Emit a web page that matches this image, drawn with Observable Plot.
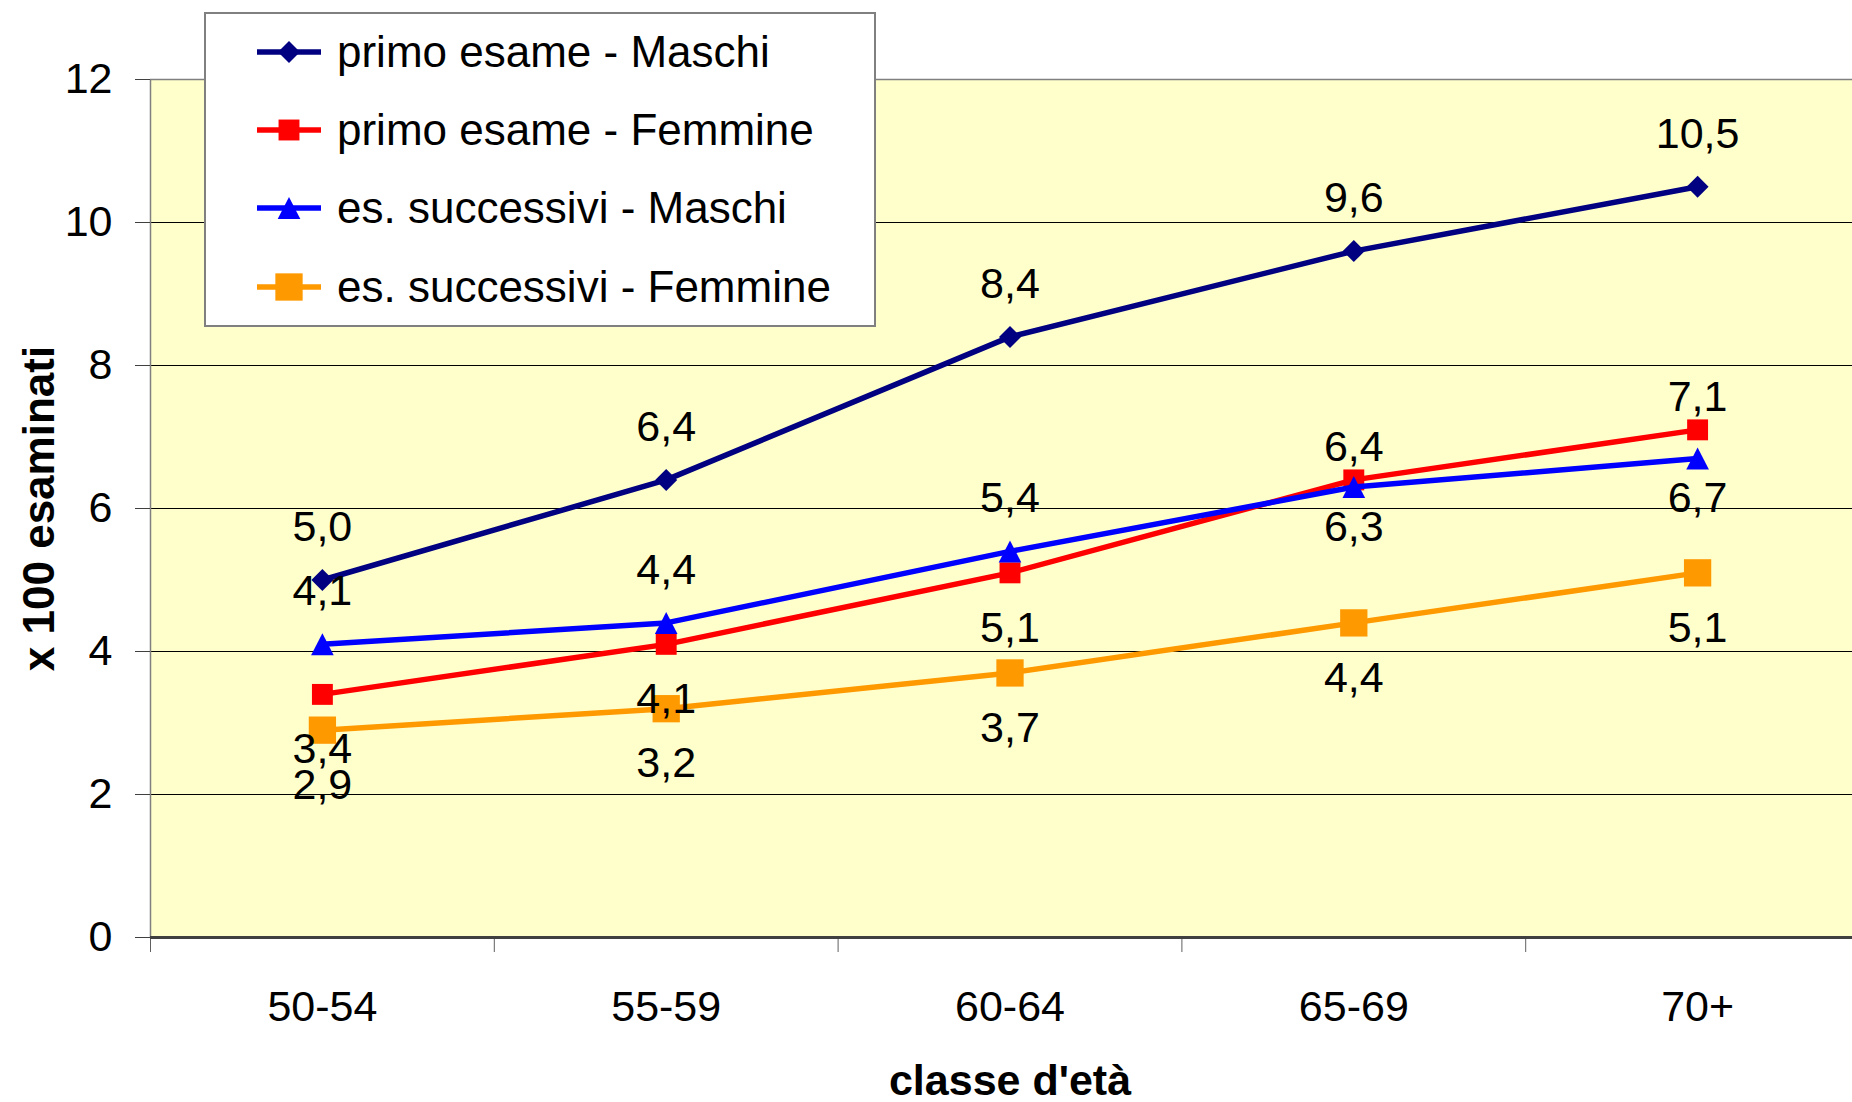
<!DOCTYPE html>
<html><head><meta charset="utf-8">
<script src="https://cdn.jsdelivr.net/npm/d3@7"></script>
<script src="https://cdn.jsdelivr.net/npm/@observablehq/plot@0.6"></script>
<style>
html,body{margin:0;padding:0;background:#fff;overflow:hidden;width:1852px;height:1102px;}
#wrap{position:relative;width:1852px;height:1102px;overflow:hidden;}
#chart{position:absolute;left:0;top:0;width:1870px;height:1102px;}
#chart svg{max-width:none !important;}
#legend{position:absolute;left:204px;top:12px;width:668px;height:311px;border:2px solid #808080;background:#fff;font-family:"Liberation Sans",Arial,sans-serif;font-size:44px;color:#000;}
.row{position:absolute;left:51px;height:60px;display:flex;align-items:center;white-space:nowrap;}
.row svg{margin-right:8px;}
</style></head><body><div id="wrap"><div id="chart"></div><div id="legend"></div></div>
<script>
const categories = ["50-54", "55-59", "60-64", "65-69", "70+"];
const seriesNames = ["primo esame - Maschi", "primo esame - Femmine", "es. successivi - Maschi", "es. successivi - Femmine"];
const primoMaschi = [5.0, 6.4, 8.4, 9.6, 10.5];
const primoFemmine = [3.4, 4.1, 5.1, 6.4, 7.1];
const succMaschi = [4.1, 4.4, 5.4, 6.3, 6.7];
const succFemmine = [2.9, 3.2, 3.7, 4.4, 5.1];
const yTicks = [0, 2, 4, 6, 8, 10, 12];
// label placement relative to point
const placePrimoMaschi = ["above", "above", "above", "above", "above"];
const placePrimoFemmine = ["below", "below", "below", "aboveNear", "aboveNear"];
const placeSuccMaschi = ["above", "above", "above", "belowNear", "belowNear"];
const placeSuccFemmine = ["below", "below", "below", "below", "below"];

// triangle centred on its bounding box (Excel style)
const triangleBox = {
  draw(ctx, size) {
    const w = Math.sqrt(size / 0.485), h = w * 0.97;
    ctx.moveTo(0, -h / 2);
    ctx.lineTo(w / 2, h / 2);
    ctx.lineTo(-w / 2, h / 2);
    ctx.closePath();
  }
};
const colors = ["#000080", "#FF0000", "#0000FF", "#FF9900"];
const symbols = [d3.symbolDiamond2, d3.symbolSquare, triangleBox, d3.symbolSquare];
const radii = [9.9, 11.8, 8.9, 15.4];
const dyByPlace = {above: -53, below: 55, aboveNear: -33, belowNear: 40};

const values = [primoMaschi, primoFemmine, succMaschi, succFemmine];
const places = [placePrimoMaschi, placePrimoFemmine, placeSuccMaschi, placeSuccFemmine];
const rows = seriesNames.flatMap((name, s) => values[s].map((v, i) => ({serie: name, s, i, v, place: places[s][i]})));
const fmt = v => d3.format(".1f")(v).replace(".", ",");
const font = "'Liberation Sans', Arial, sans-serif";

const marks = [
  Plot.frame({fill: "#FFFFCC", stroke: "none"}),
  Plot.gridY({ticks: yTicks.filter(t => t > 0 && t < 12), stroke: "#000", strokeOpacity: 1, strokeWidth: 1}),
  Plot.ruleY([12], {stroke: "#808080", strokeWidth: 1.5}),
  Plot.ruleX([-0.5], {stroke: "#808080", strokeWidth: 1.5}),
  Plot.axisY({ticks: yTicks, tickSize: 15, tickPadding: 23, fontSize: 43, stroke: "#404040", label: null}),
  Plot.axisX({ticks: d3.range(categories.length + 1).map(i => i - 0.5), tickSize: 15, tickFormat: () => "", stroke: "#606060", label: null}),
  Plot.axisX({ticks: d3.range(categories.length), tickSize: 0, tickPadding: 53, tickFormat: i => categories[i], fontSize: 43, label: null}),
  Plot.ruleY([0], {stroke: "#404040", strokeWidth: 3})
];
seriesNames.forEach((name, s) => {
  const data = rows.filter(d => d.s === s);
  marks.push(Plot.line(data, {x: "i", y: "v", stroke: colors[s], strokeWidth: 5.5, strokeLinejoin: "round"}));
  marks.push(Plot.dot(data, {x: "i", y: "v", symbol: symbols[s], r: radii[s], fill: colors[s], stroke: "none"}));
});
Object.entries(dyByPlace).forEach(([p, dy]) => {
  marks.push(Plot.text(rows.filter(d => d.place === p), {x: "i", y: "v", text: d => fmt(d.v), dy, fontSize: 43, fill: "#000"}));
});
marks.push(Plot.text(["x 100 esaminati"], {frameAnchor: "left", textAnchor: "middle", lineAnchor: "middle", dx: -111, rotate: -90, fontSize: 44, fontWeight: "bold", fill: "#000"}));
marks.push(Plot.text(["classe d'età"], {frameAnchor: "bottom", textAnchor: "middle", lineAnchor: "middle", dy: 144, fontSize: 43, fontWeight: "bold", fill: "#000"}));

const chart = Plot.plot({
  width: 1870, height: 1102,
  marginLeft: 150, marginRight: 1, marginTop: 79, marginBottom: 165,
  style: {fontFamily: font, background: "transparent", color: "#000", maxWidth: "none"},
  x: {type: "linear", domain: [-0.5, categories.length - 0.5], axis: null},
  y: {domain: [0, 12], axis: null},
  marks
});
document.getElementById("chart").appendChild(chart);

// legend
const legend = d3.select("#legend");
const rowCenters = [38, 116, 194, 273];
seriesNames.forEach((name, s) => {
  const row = legend.append("div").attr("class", "row").style("top", (rowCenters[s] - 30) + "px");
  const svg = row.append("svg").attr("width", 72).attr("height", 40);
  svg.append("line").attr("x1", 0).attr("x2", 64).attr("y1", 20).attr("y2", 20).attr("stroke", colors[s]).attr("stroke-width", 5.5);
  svg.append("path").attr("transform", "translate(32,20)").attr("d", d3.symbol(symbols[s], Math.PI * radii[s] * radii[s])()).attr("fill", colors[s]);
  row.append("span").text(name);
});
</script></body></html>
